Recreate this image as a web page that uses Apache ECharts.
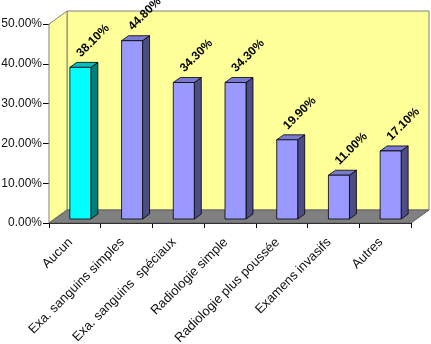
<!DOCTYPE html>
<html>
<head>
<meta charset="utf-8">
<script src="https://cdn.jsdelivr.net/npm/echarts@6/dist/echarts.min.js"></script>
<style>
  html, body { margin: 0; padding: 0; background: #fff; }
  #chart { width: 431px; height: 344px; }
</style>
</head>
<body>
<div id="chart"></div>
<script>
const categories = [
  "Aucun",
  "Exa. sanguins simples",
  "Exa. sanguins  spéciaux",
  "Radiologie simple",
  "Radiologie plus poussée",
  "Examens invasifs",
  "Autres",
];
const values = [38.1, 44.8, 34.3, 34.3, 19.9, 11.0, 17.1];
const yMin = 0;
const yMax = 50;
const yStep = 10;

const FONT = "Arial, 'Liberation Sans', sans-serif";
const DEPTH = [18, -13];
const BAR = { front: "#9999FF", side: "#4D4D86", top: "#7A7AD0" };
const FIRST = { front: "#00FFFF", side: "#007F7F", top: "#00BFBF" };

const chart = echarts.init(document.getElementById("chart"));

// back wall, left wall and floor from the grid rect
const renderWalls = (params) => {
  const r = params.coordSys;
  const [dx, dy] = DEPTH;
  const x0 = r.x, x1 = r.x + r.width, y0 = r.y, y1 = r.y + r.height;
  const line = { stroke: "#808080", lineWidth: 1 };
  return {
    type: "group",
    children: [
      {
        type: "polygon",
        shape: { points: [[x0 + dx, y0 + dy], [x1 + dx, y0 + dy], [x1 + dx, y1 + dy], [x0 + dx, y1 + dy]] },
        style: { fill: "#FFFF99", ...line },
      },
      {
        type: "polygon",
        shape: { points: [[x0, y0], [x0 + dx, y0 + dy], [x0 + dx, y1 + dy], [x0, y1]] },
        style: { fill: "#FFFF99", ...line },
      },
      {
        type: "polygon",
        shape: { points: [[x0, y1], [x0 + dx, y1 + dy], [x1 + dx, y1 + dy], [x1, y1]] },
        style: { fill: "#808080", stroke: "#606060", lineWidth: 1 },
      },
    ],
  };
};

const renderBar = (params, api) => {
  const base = api.coord([api.value(0), 0]);
  const top = api.coord([api.value(0), api.value(1)]);
  const w = 21, dx = 7, dy = -5;
  const bx = base[0] - 5;
  const by = base[1] - 4;
  const ty = top[1] - 4;
  const c = params.dataIndex === 0 ? FIRST : BAR;
  const edge = { stroke: "#000", lineWidth: 0.8 };
  return {
    type: "group",
    children: [
      {
        type: "polygon",
        shape: { points: [[bx + w, ty], [bx + w + dx, ty + dy], [bx + w + dx, by + dy], [bx + w, by]] },
        style: { fill: c.side, ...edge },
      },
      {
        type: "polygon",
        shape: { points: [[bx, ty], [bx + dx, ty + dy], [bx + w + dx, ty + dy], [bx + w, ty]] },
        style: { fill: c.top, ...edge },
      },
      {
        type: "rect",
        shape: { x: bx, y: ty, width: w, height: by - ty },
        style: { fill: c.front, ...edge },
      },
      {
        type: "text",
        x: base[0] + 8,
        y: ty - 8,
        rotation: Math.PI / 4,
        style: {
          text: api.value(1).toFixed(2) + "%",
          font: "bold 12px " + FONT,
          fill: "#000",
          align: "left",
          verticalAlign: "bottom",
        },
      },
    ],
  };
};

chart.setOption({
  animation: false,
  grid: { left: 49, right: 20, top: 24, bottom: 121, outerBoundsMode: "none" },
  xAxis: {
    type: "category",
    data: categories,
    boundaryGap: true,
    axisLine: { lineStyle: { color: "#000", width: 1 } },
    axisTick: { show: true, length: 5, lineStyle: { color: "#000" } },
    axisLabel: {
      rotate: 45,
      interval: 0,
      margin: 13,
      padding: [0, 6, 0, 0],
      color: "#111",
      fontSize: 13,
      fontFamily: FONT,
    },
  },
  yAxis: {
    type: "value",
    min: yMin,
    max: yMax,
    interval: yStep,
    axisLine: { show: true, lineStyle: { color: "#000", width: 1 } },
    axisTick: { show: true, length: 6, lineStyle: { color: "#000" } },
    splitLine: { show: false },
    axisLabel: {
      margin: 7,
      color: "#111",
      fontSize: 12,
      fontFamily: FONT,
      formatter: (v) => v.toFixed(2) + "%",
    },
  },
  series: [
    {
      type: "custom",
      renderItem: renderWalls,
      data: [[0, 0]],
      z: 1,
      silent: true,
    },
    {
      type: "custom",
      renderItem: renderBar,
      data: values.map((v, i) => [i, v]),
      z: 2,
    },
  ],
});
</script>
</body>
</html>
